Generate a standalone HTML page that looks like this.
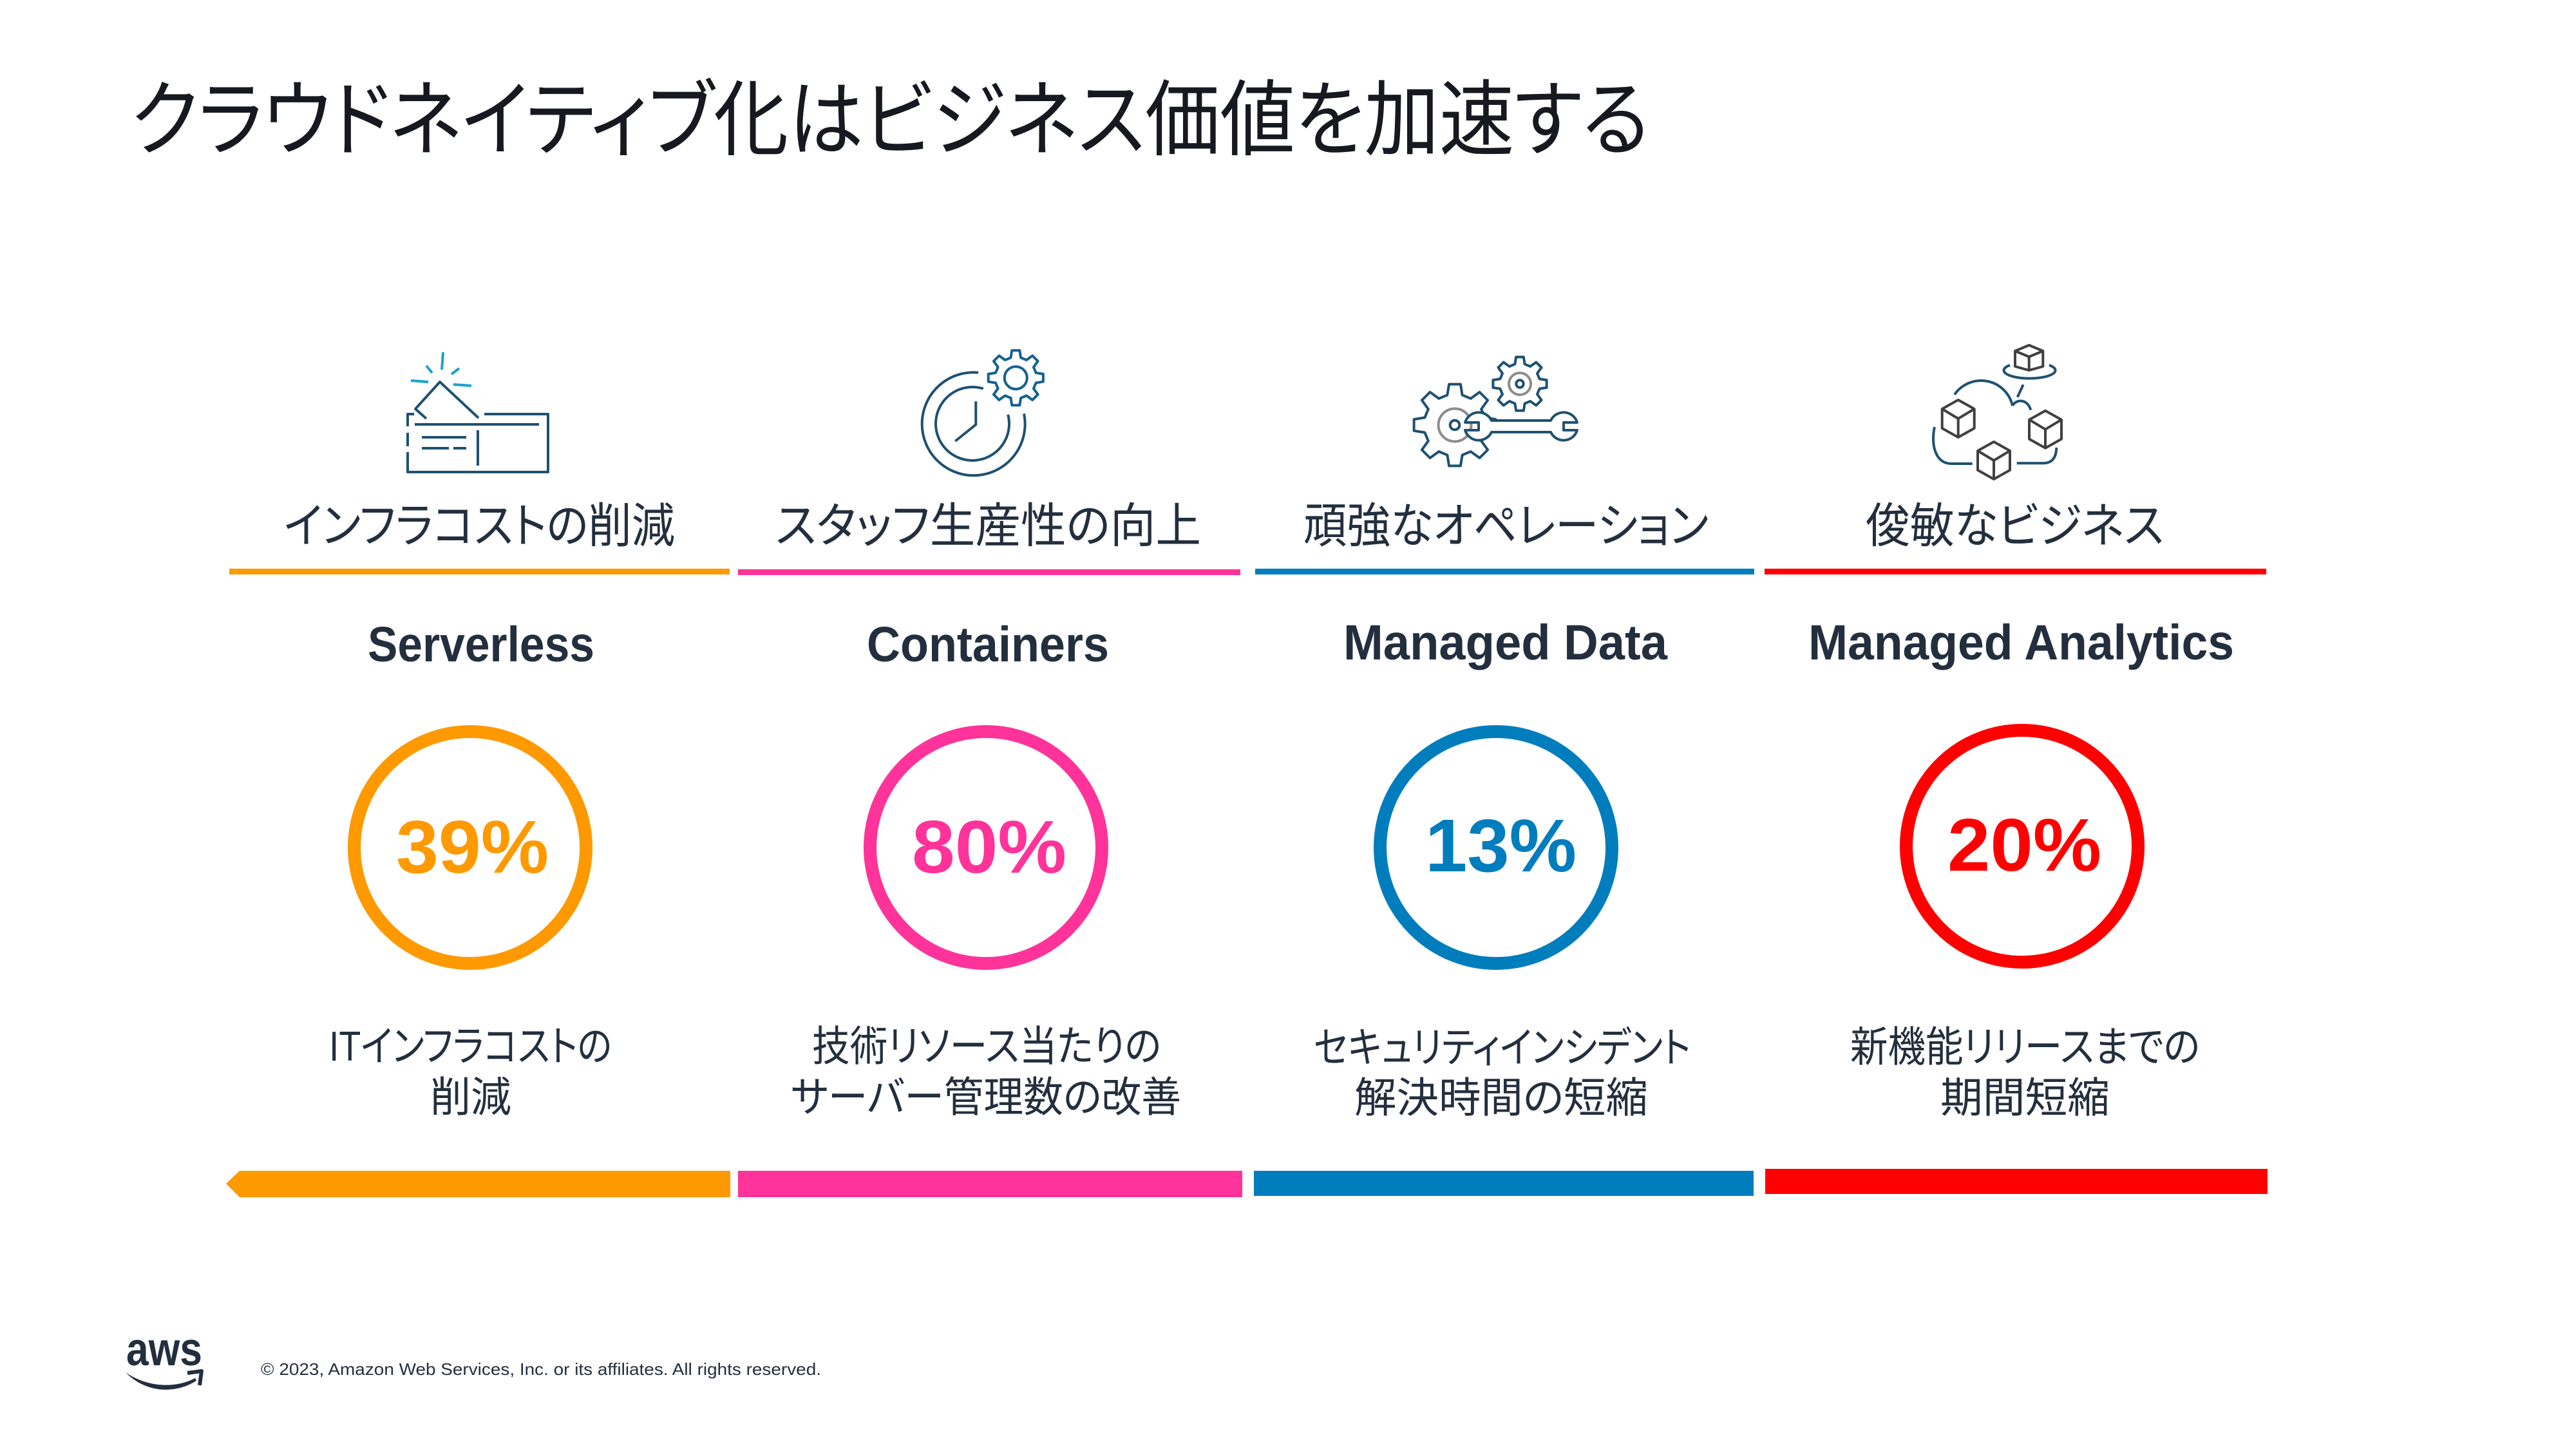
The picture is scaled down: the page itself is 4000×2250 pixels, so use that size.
<!DOCTYPE html>
<html>
<head>
<meta charset="utf-8">
<style>
html,body{margin:0;padding:0;background:#fff;}
svg{display:block;}
.jp{font-family:"Liberation Sans","Noto Sans CJK JP",sans-serif;font-feature-settings:"palt" 1;}
.en{font-family:"Liberation Sans",sans-serif;font-weight:bold;}
.lat{font-family:"Liberation Sans",sans-serif;}
</style>
</head>
<body>
<svg width="4000" height="2250" viewBox="0 0 4000 2250" xmlns="http://www.w3.org/2000/svg">
<defs>
<polygon id="gear" vector-effect="non-scaling-stroke" points=".7277,-.1815 .9903,-.1392 .9903,.1392 .7277,.1815 .6429,.3863 .7986,.6018 .6018,.7986 .3863,.6429 .1815,.7277 .1392,.9903 -.1392,.9903 -.1815,.7277 -.3863,.6429 -.6018,.7986 -.7986,.6018 -.6429,.3863 -.7277,.1815 -.9903,.1392 -.9903,-.1392 -.7277,-.1815 -.6429,-.3863 -.7986,-.6018 -.6018,-.7986 -.3863,-.6429 -.1815,-.7277 -.1392,-.9903 .1392,-.9903 .1815,-.7277 .3863,-.6429 .6018,-.7986 .7986,-.6018 .6429,-.3863"/>
</defs>
<rect x="0" y="0" width="4000" height="2250" fill="#ffffff"/>

<!-- Title -->
<text class="jp" x="203" y="231" font-size="129" fill="#16191f" textLength="2358" lengthAdjust="spacingAndGlyphs">クラウドネイティブ化はビジネス価値を加速する</text>

<!-- Icon 1 -->
<g fill="none" stroke="#1e5170" stroke-width="4" stroke-linejoin="round">
  <polyline points="662,650 645,635 683,593 743,649"/>
  <path d="M643,643 L633,643 L633,662 M633,672 L633,693 M633,702 L633,733 L851,733 L851,643 L752,643"/>
  <line x1="644" y1="659" x2="837" y2="659"/>
  <line x1="655" y1="679" x2="724" y2="679"/>
  <line x1="655" y1="696" x2="697" y2="696"/>
  <line x1="704" y1="696" x2="724" y2="696"/>
  <line x1="742" y1="668" x2="742" y2="723"/>
</g>
<g fill="none" stroke="#17a2cf" stroke-width="4">
  <line x1="688" y1="547" x2="686" y2="574"/>
  <line x1="662" y1="568" x2="671" y2="579"/>
  <line x1="713" y1="572" x2="701" y2="581"/>
  <line x1="638" y1="591" x2="665" y2="593"/>
  <line x1="704" y1="597" x2="732" y2="599"/>
</g>

<!-- Icon 2 -->
<g fill="none" stroke="#1e5170" stroke-width="4" stroke-linejoin="round">
  <path d="M1590.1,642.4 A80,80 0 1 1 1519.1,578.6"/>
  <path d="M1565.2,643.7 A57,57 0 1 1 1526.8,603.5"/>
  <polyline points="1515.3,623.3 1515.3,659.3 1483.3,685"/>
</g>
<g fill="none" stroke="#14618f" stroke-width="4" stroke-linejoin="round">
  <use href="#gear" transform="translate(1577.3,586.7) scale(43)"/>
  <circle cx="1577.3" cy="586.7" r="17.5"/>
</g>

<!-- Icon 3 -->
<g stroke-width="4" stroke-linejoin="round">
  <use href="#gear" transform="translate(2259,660) scale(64)" fill="#fff" stroke="#1e5170"/>
  <circle cx="2259" cy="660" r="25.5" fill="none" stroke="#8c8c8c"/>
  <circle cx="2259" cy="660" r="7.3" fill="none" stroke="#1e5170"/>
  <use href="#gear" transform="translate(2360,596) scale(42)" fill="#fff" stroke="#1e5170"/>
  <circle cx="2360" cy="596" r="17" fill="none" stroke="#8c8c8c"/>
  <circle cx="2360" cy="596" r="5.7" fill="none" stroke="#1e5170"/>
  <path fill="#fff" stroke="#1e5170" d="M2275,656 L2296,656 L2296,668 L2275,668 A22,22 0 0 0 2316,671 L2408,671 A22,22 0 0 0 2449,668 L2428,668 L2428,656 L2449,656 A22,22 0 0 0 2408,653 L2316,653 A22,22 0 0 0 2275,656 Z"/>
</g>

<!-- Icon 4 -->
<g fill="none" stroke="#1e5170" stroke-width="4" stroke-linecap="butt">
  <path d="M3121,567 A40,12.5 0 1 0 3182,567"/>
  <line x1="3141.7" y1="597.3" x2="3132.7" y2="616.7"/>
  <path d="M3035,612.7 A50,50 0 0 1 3125,630"/>
  <path d="M3125,630 C3130,620 3148,618 3153.3,636.7"/>
  <path d="M3004,663 C2998,690 3005,720 3030,720 L3062.7,720"/>
  <path d="M3131.7,719.3 L3173,719.3 C3187,719 3193,710 3193.3,695"/>
</g>
<g fill="#fff" stroke="#404040" stroke-width="4" stroke-linejoin="round">
  <path d="M3150.7,536 L3172.3,545 L3172.3,569 L3150.7,575 L3129,569 L3129,545 Z M3129,545 L3150.7,554 L3172.3,545 M3150.7,554 L3150.7,575"/>
  <g transform="translate(3040.7,650)"><path d="M0,-29 L25,-15 L25,15 L0,29 L-25,15 L-25,-15 Z M-25,-15 L0,0 L25,-15 M0,0 L0,29"/></g>
  <g transform="translate(3176,666.7)"><path d="M0,-29 L25,-15 L25,15 L0,29 L-25,15 L-25,-15 Z M-25,-15 L0,0 L25,-15 M0,0 L0,29"/></g>
  <g transform="translate(3096,715)"><path d="M0,-29 L25,-15 L25,15 L0,29 L-25,15 L-25,-15 Z M-25,-15 L0,0 L25,-15 M0,0 L0,29"/></g>
</g>

<!-- Label row -->
<g class="jp" font-size="74" fill="#232f3e">
  <text x="441" y="842" textLength="607" lengthAdjust="spacingAndGlyphs">インフラコストの削減</text>
  <text x="1204" y="842" textLength="661" lengthAdjust="spacingAndGlyphs">スタッフ生産性の向上</text>
  <text x="2024" y="842" textLength="629" lengthAdjust="spacingAndGlyphs">頑強なオペレーション</text>
  <text x="2897" y="842" textLength="463" lengthAdjust="spacingAndGlyphs">俊敏なビジネス</text>
</g>

<!-- Top colored lines -->
<rect x="356" y="883" width="777" height="9" fill="#ff9900"/>
<rect x="1146" y="884" width="780" height="9" fill="#ff3399"/>
<rect x="1949" y="883" width="775" height="9" fill="#007dbc"/>
<rect x="2740" y="883" width="779" height="9" fill="#ff0000"/>

<!-- Subtitles -->
<g class="en" font-size="77" fill="#232f3e">
  <text x="571" y="1027" textLength="352" lengthAdjust="spacingAndGlyphs">Serverless</text>
  <text x="1346" y="1027" textLength="376" lengthAdjust="spacingAndGlyphs">Containers</text>
  <text x="2086" y="1024" textLength="503" lengthAdjust="spacingAndGlyphs">Managed Data</text>
  <text x="2808" y="1024" textLength="661" lengthAdjust="spacingAndGlyphs">Managed Analytics</text>
</g>

<!-- Circles -->
<g fill="none" stroke-width="20">
  <circle cx="730" cy="1316" r="180" stroke="#ff9900"/>
  <circle cx="1531" cy="1316" r="180" stroke="#ff3399"/>
  <circle cx="2323" cy="1316" r="180" stroke="#007dbc"/>
  <circle cx="3140" cy="1314" r="180" stroke="#ff0000"/>
</g>

<!-- Numbers -->
<g class="en" font-size="116">
  <text x="615" y="1355" fill="#ff9900" textLength="237" lengthAdjust="spacingAndGlyphs">39%</text>
  <text x="1416" y="1355" fill="#ff3399" textLength="240" lengthAdjust="spacingAndGlyphs">80%</text>
  <text x="2213" y="1353" fill="#007dbc" textLength="235" lengthAdjust="spacingAndGlyphs">13%</text>
  <text x="3024" y="1352" fill="#ff0000" textLength="239" lengthAdjust="spacingAndGlyphs">20%</text>
</g>

<!-- Descriptions -->
<g class="jp" font-size="65" fill="#232f3e">
  <text x="511" y="1647" textLength="439" lengthAdjust="spacingAndGlyphs">ITインフラコストの</text>
  <text x="668" y="1726" textLength="126" lengthAdjust="spacingAndGlyphs">削減</text>
  <text x="1261" y="1647" textLength="542" lengthAdjust="spacingAndGlyphs">技術リソース当たりの</text>
  <text x="1228" y="1726" textLength="606" lengthAdjust="spacingAndGlyphs">サーバー管理数の改善</text>
  <text x="2040" y="1649" textLength="585" lengthAdjust="spacingAndGlyphs">セキュリティインシデント</text>
  <text x="2103" y="1727" textLength="456" lengthAdjust="spacingAndGlyphs">解決時間の短縮</text>
  <text x="2873" y="1648" textLength="543" lengthAdjust="spacingAndGlyphs">新機能リリースまでの</text>
  <text x="3013" y="1727" textLength="263" lengthAdjust="spacingAndGlyphs">期間短縮</text>
</g>

<!-- Bottom bars -->
<polygon points="351,1838 372,1818 1134,1818 1134,1859 372,1859" fill="#ff9900"/>
<rect x="1146" y="1818" width="783" height="41" fill="#ff3399"/>
<rect x="1947" y="1818" width="776" height="39" fill="#007dbc"/>
<rect x="2741" y="1815" width="780" height="39" fill="#ff0000"/>

<!-- Footer -->
<text class="en" x="196" y="2120" font-size="73" fill="#232f3e" textLength="118" lengthAdjust="spacingAndGlyphs">aws</text>
<path d="M195,2131 C225,2152 268,2158 303,2140 L305,2144 C270,2166 225,2162 195,2131 Z" fill="#232f3e"/>
<path d="M291,2132 L313,2129 L310,2151" fill="none" stroke="#232f3e" stroke-width="6" stroke-linejoin="round"/>
<text class="lat" x="405" y="2135" font-size="26" fill="#232f3e" textLength="870" lengthAdjust="spacingAndGlyphs">© 2023, Amazon Web Services, Inc. or its affiliates. All rights reserved.</text>
</svg>
</body>
</html>
